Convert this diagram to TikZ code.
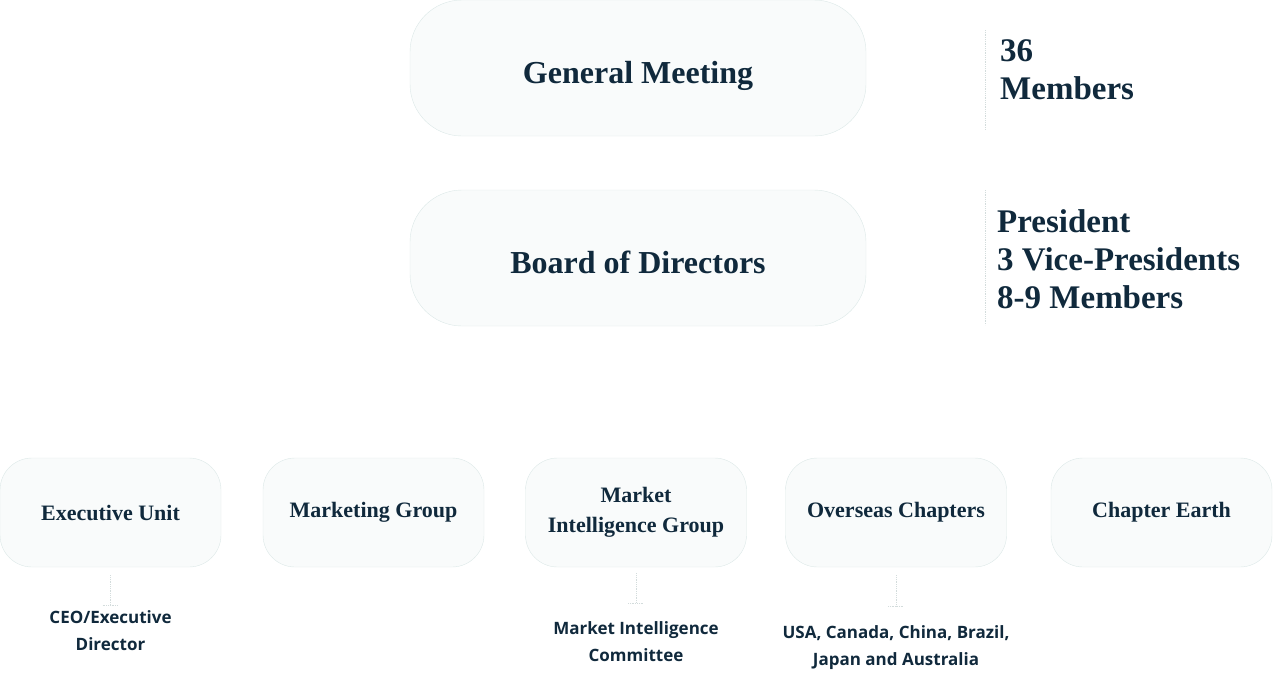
\documentclass[tikz,border=0pt]{standalone}
\usepackage{fontspec}
\setmainfont{Liberation Serif}
\newfontfamily\notefont{Open Sans}
\usepackage{xcolor}
\usetikzlibrary{positioning}

\definecolor{ink}{HTML}{10293C}
\definecolor{boxfill}{HTML}{F9FBFB}
\definecolor{boxline}{HTML}{DCE8E7}
\definecolor{dotline}{HTML}{D3DCDC}

\begin{document}
\begin{tikzpicture}[
    x=1pt,y=-1pt,
    bigbox/.style={rectangle,draw=boxline,fill=boxfill,rounded corners=52pt,minimum width=456pt,minimum height=136pt,
        text=ink,text height=30pt,text depth=0pt,font=\fontsize{32}{38}\selectfont\bfseries},
    unit/.style={rectangle,draw=boxline,fill=boxfill,rounded corners=32pt,minimum width=221pt,minimum height=109pt,
        text=ink,align=center,font=\fontsize{22}{30}\selectfont\bfseries},
    side/.style={anchor=north west,align=left,text=ink,inner sep=0pt,font=\fontsize{33}{38}\selectfont\bfseries},
    note/.style={align=center,text=ink,inner sep=0pt,font=\notefont\fontsize{17}{27}\selectfont\bfseries},
    link/.style={draw=dotline,densely dotted,line width=0.8pt}
]
\useasboundingbox (0,0) rectangle (1273,672);

% top levels
\node[bigbox] (gm) at (638,68) {General Meeting};
\node[bigbox] (bod) at (638,258) {Board of Directors};

\node[side] (gmnote) at (1000,39) {36\\Members};
\node[side] (bodnote) at (997,209) {President\\3 Vice-Presidents\\8-9 Members};
\coordinate (gmtop) at (985,30);
\coordinate (bodtop) at (985,190);
\draw[link] (gmtop) -- ++(0,100);
\draw[link] (bodtop) -- ++(0,135);

% units
\node[unit] (exec) at (110.5,512.5) {Executive Unit};
\node[unit] (mkt) at (373.5,512.5) {Marketing Group};
\node[unit] (mig) at (636,512.5) {Market\\Intelligence Group};
\node[unit] (osc) at (896,512.5) {Overseas Chapters};
\node[unit] (earth) at (1161.5,512.5) {Chapter Earth};

% notes under units
\node[note,below=43pt of exec] (ceo) {CEO/Executive\\Director};
\node[note,below=54pt of mig] (mic) {Market Intelligence\\Committee};
\node[note,below=58pt of osc] (ctry) {USA, Canada, China, Brazil,\\Japan and Australia};

\coordinate[below=38pt of exec.south] (ceotick);
\coordinate[below=36pt of mig.south] (mictick);
\coordinate[below=39pt of osc.south] (ctrytick);
\draw[link,shorten <=8pt] (exec.south) -- (ceotick);
\draw[link] ([xshift=-8pt]ceotick) -- ([xshift=8pt]ceotick);
\draw[link,shorten <=6pt] (mig.south) -- (mictick);
\draw[link] ([xshift=-8pt]mictick) -- ([xshift=8pt]mictick);
\draw[link,shorten <=8pt] (osc.south) -- (ctrytick);
\draw[link] ([xshift=-8pt]ctrytick) -- ([xshift=8pt]ctrytick);
\end{tikzpicture}
\end{document}
